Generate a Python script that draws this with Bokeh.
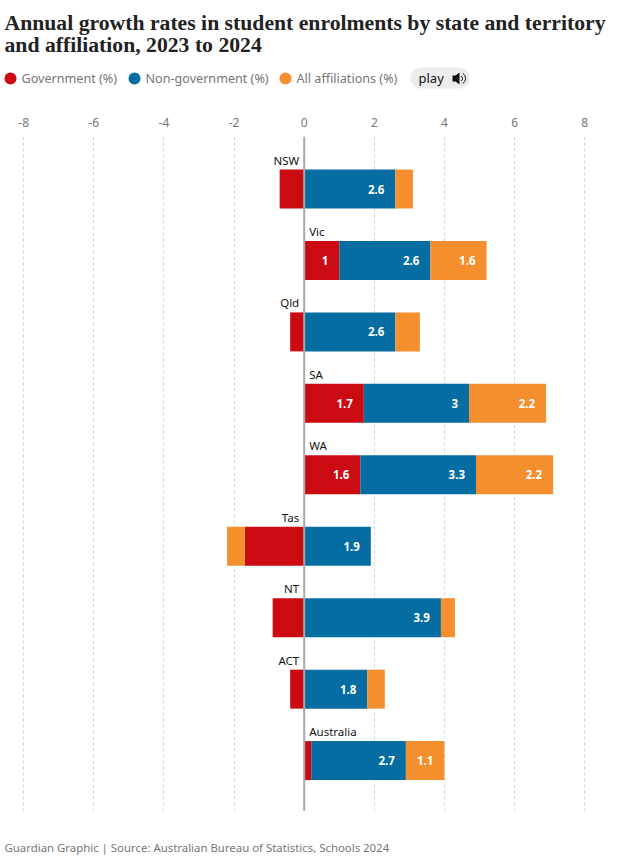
from bokeh.plotting import figure
from bokeh.layouts import column
from bokeh.embed import file_html
from bokeh.resources import INLINE
from bokeh.models import Span, Range1d, FixedTicker, ColumnDataSource, LabelSet
from bokeh.core.properties import value

regions = ["NSW", "Vic", "Qld", "SA", "WA", "Tas", "NT", "ACT", "Australia"]
government = [-0.7, 1.0, -0.4, 1.7, 1.6, -1.7, -0.9, -0.4, 0.2]
non_government = [2.6, 2.6, 2.6, 3.0, 3.3, 1.9, 3.9, 1.8, 2.7]
all_affiliations = [0.5, 1.6, 0.7, 2.2, 2.2, -0.5, 0.4, 0.5, 1.1]
ticks = [-8, -6, -4, -2, 0, 2, 4, 6, 8]
title_lines = ["Annual growth rates in student enrolments by state and territory",
               "and affiliation, 2023 to 2024"]
legend_names = ["Government (%)", "Non-government (%)", "All affiliations (%)"]
source_text = "Guardian Graphic | Source: Australian Bureau of Statistics, Schools 2024"

RED = "#cc0a11"; BLUE = "#056da1"; ORANGE = "#f58f2e"
SANS = "Noto Sans"
W, TOTAL = 629, 857
PXU = 35.06
ZERO = 303.7
TOP, BOT = 136, 811
STEP = 71.45
FIRST = 188.5
BAR_PX = 39
HEAD_H = 105

def blank(h):
    f = figure(width=W, height=h, output_backend="svg", toolbar_location=None,
               x_range=Range1d(0, W), y_range=Range1d(h, 0),
               min_border=0, outline_line_color=None)
    f.axis.visible = False
    f.grid.visible = False
    return f

def txt(f, x, y, t, size, color, font=SANS, style="normal"):
    f.text(x=[x], y=[y], text=[t], text_font=value(font), text_font_size=value(size), text_color=color,
           text_font_style=style, text_baseline="middle", text_align="left")

# header
h = blank(HEAD_H)
txt(h, 4, 22, title_lines[0], "21.7px", "#222222", "Liberation Serif", "bold")
txt(h, 4, 44, title_lines[1], "21.7px", "#222222", "Liberation Serif", "bold")
for x0, xt, name, col in zip((10, 134, 285), (21, 145, 296), legend_names, (RED, BLUE, ORANGE)):
    h.scatter(x=[x0], y=[78], size=12, color=col, line_color=None)
    txt(h, xt, 78, name, "12.6px", "#767676")
h.quad(left=[410], right=[469], top=[67], bottom=[88], color="#ececec", line_color=None, border_radius=10)
txt(h, 418, 77, "play", "13px", "#121212")
h.patch(x=[452, 455, 459, 459, 455, 452], y=[75, 75, 72, 84, 81, 81], color="#121212", line_color=None)
h.arc(x=[459, 459], y=[78, 78], radius=[3, 6], start_angle=-1.0, end_angle=1.0, line_color="#121212", line_width=1)

# main chart
p = figure(width=W, height=BOT - HEAD_H, output_backend="svg", toolbar_location=None,
           x_axis_location="above",
           x_range=Range1d(-ZERO / PXU, (W - ZERO) / PXU),
           y_range=Range1d((BOT - FIRST) / STEP, (TOP - FIRST) / STEP),
           min_border_left=0, min_border_right=0, min_border_bottom=0, min_border_top=TOP - HEAD_H,
           outline_line_color=None, background_fill_color="white")
p.yaxis.visible = False
p.ygrid.visible = False
ax = p.xaxis[0]
ax.ticker = FixedTicker(ticks=ticks)
ax.major_label_overrides = {t: str(t) for t in ticks}
ax.axis_line_color = None
ax.major_tick_line_color = None
ax.minor_tick_line_color = None
ax.major_label_text_font = SANS
ax.major_label_text_font_size = "12px"
ax.major_label_text_color = "#767676"
ax.major_label_standoff = 4
p.xgrid.ticker = FixedTicker(ticks=ticks)
p.xgrid.grid_line_color = "#d4d4d4"
p.xgrid.grid_line_dash = "3 3"
p.xgrid.grid_line_width = 1

# stacked diverging bars
rows = list(range(len(regions)))
pos_l, neg_l = [0.0] * 9, [0.0] * 9
seg = {"y": [], "left": [], "right": [], "color": []}
lab = {"x": [], "y": [], "t": []}
for vals, col in zip((government, non_government, all_affiliations), (RED, BLUE, ORANGE)):
    for i, v in enumerate(vals):
        if v >= 0:
            a, b = pos_l[i], pos_l[i] + v
            pos_l[i] = b
            if v >= 1:
                lab["x"].append(b); lab["y"].append(i); lab["t"].append(f"{v:g}")
        else:
            a, b = neg_l[i] + v, neg_l[i]
            neg_l[i] = a
        seg["y"].append(i); seg["left"].append(a); seg["right"].append(b); seg["color"].append(col)
p.hbar(y="y", left="left", right="right", height=BAR_PX / STEP, color="color", line_color=None,
       source=ColumnDataSource(seg))
p.add_layout(LabelSet(x="x", y="y", text="t", source=ColumnDataSource(lab), x_offset=-11, y_offset=0,
                      text_align="right", text_baseline="middle", text_color="white",
                      text_font=value(SANS), text_font_size="11.5px", text_font_style="bold"))

rl = {"x": [0.0] * 9, "y": rows, "t": regions}
neg_src = {k: [v[i] for i in rows if government[i] < 0] for k, v in rl.items()}
pos_src = {k: [v[i] for i in rows if government[i] >= 0] for k, v in rl.items()}
for src, off, al in ((neg_src, -5, "right"), (pos_src, 5, "left")):
    p.add_layout(LabelSet(x="x", y="y", text="t", source=ColumnDataSource(src), x_offset=off, y_offset=29,
                          text_align=al, text_baseline="middle", text_color="#121212",
                          text_font=value(SANS), text_font_size="11.5px"))
p.add_layout(Span(location=0, dimension="height", line_color="#a9a9a9", line_width=2))

# footer
foot = blank(TOTAL - BOT)
txt(foot, 4, 847 - BOT, source_text, "11.4px", "#767676")

page = column(h, p, foot, spacing=0)
open("out.html", "w").write(file_html(page, INLINE))
